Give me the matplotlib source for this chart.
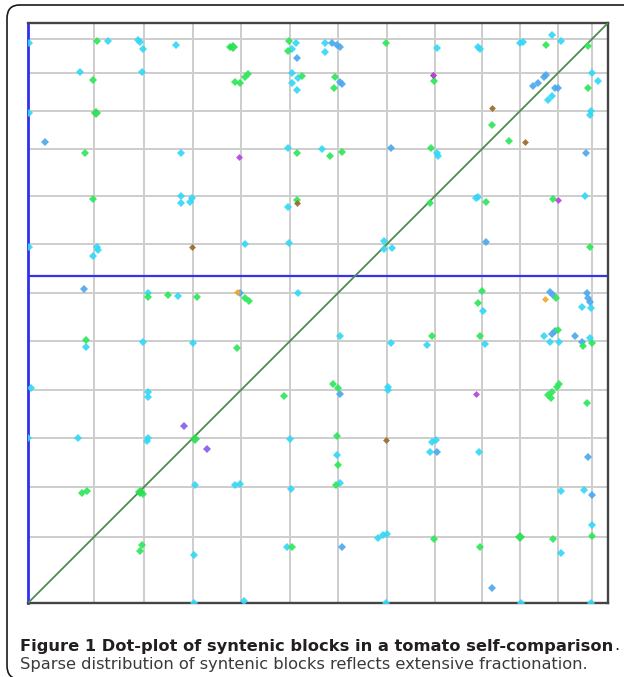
import matplotlib
matplotlib.use("Agg")
import matplotlib.pyplot as plt
from matplotlib.patches import FancyBboxPatch

# ---- data (genome coordinate units, both axes) ----
chrom_bounds = [66, 116, 165, 213, 262, 310, 359, 407, 454, 492, 530, 564]
genome_end = 580
marker_pos = 327  # highlighted horizontal position

cyan_x = [1, 80, 110, 112, 115, 148, 268, 264, 52, 114, 264, 264, 270, 269, 1, 153, 260, 153, 153, 164, 162, 260,
          297, 297, 409, 450, 452, 492, 495, 524, 533, 520, 524, 564, 570, 563, 562, 294, 409, 410, 450, 448, 557,
          1, 69, 70, 65, 217, 261, 150, 270, 120, 58, 115, 165, 3, 120, 120,
          356, 356, 364, 455, 554, 563, 312, 363, 399, 457, 516, 522, 531, 562, 360, 360,
          0, 50, 120, 119, 167, 207, 212, 262, 263, 166, 259, 216, 166,
          404, 408, 402, 451, 309, 312, 533, 556, 564, 350, 355, 359, 533, 358, 493, 563]
cyan_y = [560, 562, 563, 561, 554, 558, 560, 554, 531, 531, 530, 520, 525, 513, 490, 450, 455, 407, 400, 405, 401, 396,
          560, 551, 555, 556, 554, 560, 561, 568, 562, 503, 507, 530, 522, 492, 488, 454, 450, 447, 406, 405, 407,
          356, 356, 353, 347, 359, 360, 307, 310, 310, 256, 261, 260, 215, 211, 206,
          362, 354, 355, 292, 296, 295, 267, 260, 258, 259, 267, 261, 261, 265, 216, 213,
          165, 165, 165, 162, 118, 118, 119, 164, 114, 48, 56, 2, 0,
          161, 163, 151, 151, 148, 120, 112, 113, 78, 65, 68, 69, 50, 0, 0, 0]

blue_x = [269, 17, 304, 309, 312, 312, 314, 505, 510, 516, 518, 527, 530, 363, 558, 56, 212, 458, 522, 525,
          559, 560, 562, 524, 527, 547, 554, 312, 409, 560, 564, 314, 464]
blue_y = [545, 461, 560, 558, 556, 521, 519, 517, 520, 526, 528, 515, 515, 455, 450, 314, 310, 361, 311, 308,
          310, 305, 301, 269, 272, 267, 261, 209, 151, 146, 108, 56, 15]

green_x = [69, 202, 261, 260, 65, 207, 212, 217, 220, 57, 269, 65, 358, 518, 560, 307, 306, 406, 560, 302, 314,
           403, 458, 402, 525, 269, 274, 120, 140, 169, 217, 221, 58, 562, 454, 450, 528, 452, 555, 564, 530,
           404, 305, 310, 520, 524, 529, 531, 523, 559, 209, 256, 54, 59, 115, 114, 112, 264, 309, 310, 308,
           406, 525, 452, 464, 481, 564]
green_y = [562, 556, 562, 552, 523, 521, 520, 526, 529, 450, 450, 404, 560, 558, 557, 526, 515, 522, 515, 447, 451,
           455, 401, 400, 404, 403, 527, 306, 308, 306, 305, 302, 263, 356, 312, 300, 305, 267, 257, 260, 273,
           267, 219, 215, 208, 211, 216, 219, 205, 200, 255, 207, 110, 112, 109, 58, 52, 56, 167, 138, 118,
           64, 64, 56, 478, 462, 67]

green_big_x = [68, 167, 112, 492, 205]
green_big_y = [490, 164, 111, 66, 556]

brown_x = [164, 358, 405, 464, 497, 269]
brown_y = [356, 163, 528, 495, 461, 400]

magenta_x = [211, 448, 530, 405]
magenta_y = [446, 209, 403, 528]

violet_x = [156, 179]
violet_y = [177, 154]

orange_x = [517, 209]
orange_y = [304, 311]

caption_bold = "Figure 1 Dot-plot of syntenic blocks in a tomato self-comparison"
caption_rest = "Sparse distribution of syntenic blocks reflects extensive fractionation."

# ---- figure ----
W, H = 624, 677
fig = plt.figure(figsize=(W / 100, H / 100), dpi=100)
fig.patch.set_facecolor("white")

# rounded frame (extends beyond right/bottom edges)
frame = FancyBboxPatch((7 / W, 1 - 679 / H), 660 / W, 674 / H,
                       boxstyle="round,pad=0,rounding_size=0.02",
                       transform=fig.transFigure, fill=False, edgecolor="#1a1a1a",
                       linewidth=1.2, clip_on=False)
fig.patches.append(frame)

ax = fig.add_axes([28 / W, 1 - 603 / H, 580 / W, 580 / H])
ax.set_xlim(0, genome_end)
ax.set_ylim(0, genome_end)
ax.set_xticks([])
ax.set_yticks([])

for b in chrom_bounds:
    ax.axvline(b, color="#cdcdcd", lw=1.4, zorder=1)
    ax.axhline(b, color="#cdcdcd", lw=1.4, zorder=1)

ax.axhline(marker_pos, color="#3434f0", lw=1.6, zorder=2)
ax.plot([0, genome_end], [0, genome_end], color="#4f8c4f", lw=1.3, zorder=3)

mk = dict(marker="D", linestyle="none", markeredgewidth=0, zorder=4, alpha=0.92)
ax.plot(cyan_x, cyan_y, color="#33d8f6", ms=3.6, **mk)
ax.plot(blue_x, blue_y, color="#4ea8ee", ms=3.6, **mk)
ax.plot(green_x, green_y, color="#2ee85a", ms=3.6, **mk)
ax.plot(green_big_x, green_big_y, color="#28e050", ms=5.2, **mk)
ax.plot(brown_x, brown_y, color="#9c6a28", ms=3.5, **mk)
ax.plot(magenta_x, magenta_y, color="#b444e0", ms=3.5, **mk)
ax.plot(violet_x, violet_y, color="#8a5ee8", ms=4.5, **mk)
ax.plot(orange_x, orange_y, color="#f4a82a", ms=3.5, **mk)

for side in ["top", "right", "bottom"]:
    ax.spines[side].set_color("#444444")
    ax.spines[side].set_linewidth(1.7)
ax.spines["left"].set_color("#2f2ff0")
ax.spines["left"].set_linewidth(2.0)

# caption
fs = 11.7
t1 = fig.text(20 / W, 1 - 646 / H, caption_bold, fontsize=fs, fontweight="bold",
              family="DejaVu Sans", color="#231f20", va="center", ha="left")
fig.canvas.draw()
bb = t1.get_window_extent()
fig.text(bb.x1 / W + 0.5 / W, 1 - 646 / H, ".", fontsize=fs, family="DejaVu Sans",
         color="#231f20", va="center", ha="left")
fig.text(20 / W, 1 - 664 / H, caption_rest, fontsize=fs, family="DejaVu Sans",
         color="#3a3a3a", va="center", ha="left")

fig.savefig("out.png", dpi=100, facecolor="white")
